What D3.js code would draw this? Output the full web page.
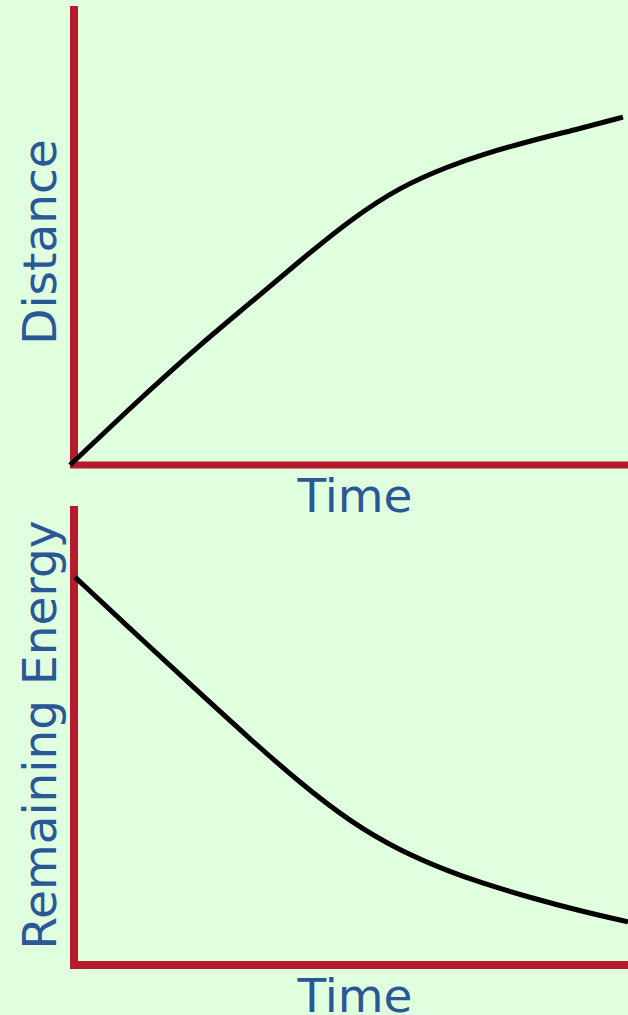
<!DOCTYPE html>
<html>
<head>
<meta charset="utf-8">
<script src="https://cdn.jsdelivr.net/npm/d3@7"></script>
<style>
  html, body { margin: 0; padding: 0; background: #dfffdf; }
  svg { display: block; }
  .lbl { font-family: "DejaVu Sans", Verdana, sans-serif; font-size: 47px; fill: #2b5797; }
</style>
</head>
<body>
<script>
// data (arbitrary units 0..100)
const topTime = [0, 14.3, 23.3, 32.3, 41.2, 50.2, 59.1, 68.1, 73.5, 82.4, 91.4, 99.1];
const distance = [0, 16.4, 26.2, 35.3, 44.5, 53.4, 60.6, 65.2, 67.5, 70.6, 73.3, 75.8];
const botTime = [0.9, 14.3, 23.3, 32.3, 41.2, 50.2, 59.1, 68.1, 73.5, 82.4, 91.4, 100];
const energy = [84.5, 69.3, 59.2, 49.2, 39.7, 31.2, 24.9, 20.3, 18.0, 14.7, 11.8, 9.4];

const W = 628, H = 1015;
const axisRed = "#b51b2c";

const svg = d3.select("body").append("svg")
  .attr("width", W)
  .attr("height", H);

svg.append("rect").attr("width", W).attr("height", H).attr("fill", "#dfffdf");

const x = d3.scaleLinear().domain([0, 100]).range([70, 628]);

const panels = [
  { t: topTime, v: distance, y0: 465, y1: 6, yw: 7, label: "Distance", ly: 242, tb: 512 },
  { t: botTime, v: energy, y0: 965, y1: 506, yw: 8, label: "Remaining Energy", ly: 735, tb: 1012 }
];

panels.forEach((p) => {
  const y = d3.scaleLinear().domain([0, 100]).range([p.y0, p.y1]);
  const g = svg.append("g");

  // horizontal axis
  const xa = g.append("g")
    .attr("transform", `translate(0,${p.y0})`)
    .call(d3.axisBottom(x).ticks(0).tickSizeOuter(0).offset(0));
  xa.select(".domain").attr("stroke", axisRed).attr("stroke-width", p.yw).attr("fill", "none");

  // vertical axis
  const ya = g.append("g")
    .attr("transform", `translate(74,0)`)
    .call(d3.axisLeft(y).ticks(0).tickSizeOuter(0).offset(0));
  ya.select(".domain").attr("stroke", axisRed).attr("stroke-width", 8).attr("fill", "none");

  const line = d3.line()
    .x((d, i) => x(p.t[i]))
    .y((d) => y(d))
    .curve(d3.curveBasis);

  g.append("path")
    .datum(p.v)
    .attr("d", line)
    .attr("fill", "none")
    .attr("stroke", "#000")
    .attr("stroke-width", 5);

  g.append("text")
    .attr("class", "lbl")
    .attr("text-anchor", "middle")
    .attr("transform", `translate(56,${p.ly}) rotate(-90)`)
    .text(p.label);

  g.append("text")
    .attr("class", "lbl")
    .attr("text-anchor", "middle")
    .attr("x", 355)
    .attr("y", p.tb)
    .text("Time");
});
</script>
</body>
</html>
